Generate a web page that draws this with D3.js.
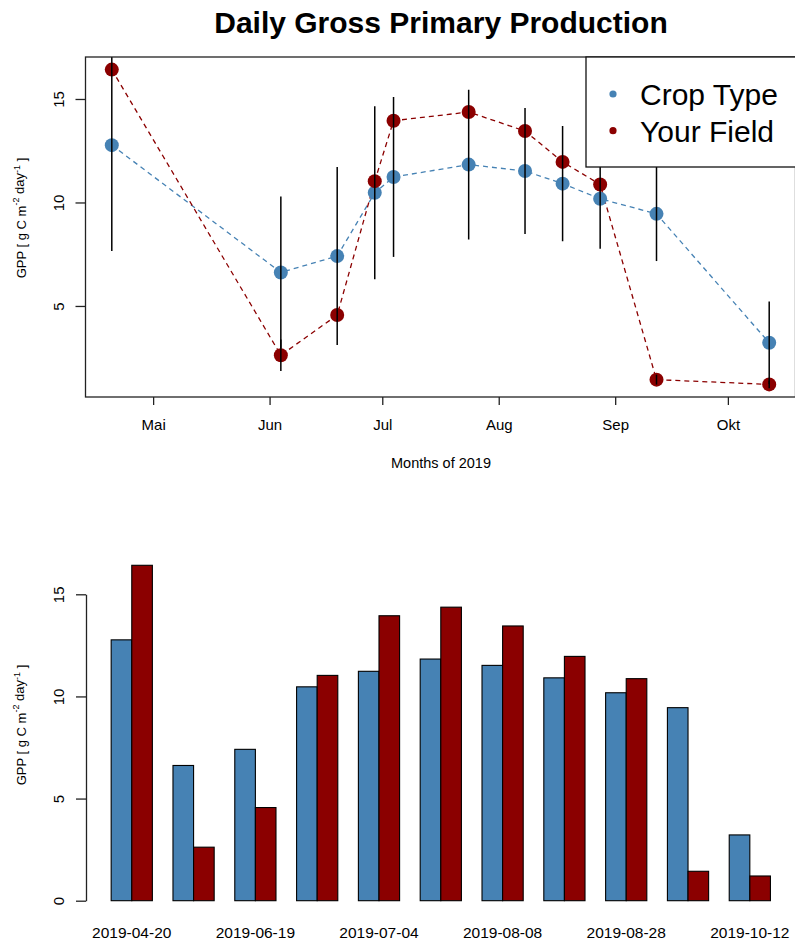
<!DOCTYPE html>
<html>
<head>
<meta charset="utf-8">
<script src="https://cdn.jsdelivr.net/npm/d3@7"></script>
<style>
  body { margin: 0; background: #fff; }
  svg { display: block; font-family: "Liberation Sans", Arial, sans-serif; }
</style>
</head>
<body>
<svg id="chart" width="795" height="942"></svg>
<script>
// ---------- data ----------
const dates = ["2019-04-20","2019-06-04","2019-06-19","2019-06-29","2019-07-04","2019-07-24","2019-08-08","2019-08-18","2019-08-28","2019-09-12","2019-10-12"];
const cropType  = [12.77, 6.62, 7.41, 10.47, 11.23, 11.83, 11.52, 10.91, 10.18, 9.45, 3.22];
const yourField = [16.42, 2.62, 4.56, 11.03, 13.95, 14.37, 13.45, 11.96, 10.87, 1.44, 1.21];
const cropSd    = [5.12, 3.67, 4.30, 4.18, 3.86, 3.62, 3.04, 2.78, 2.41, 2.28, 1.99];
const fieldSd   = [0, 0.76, 0, 0, 0, 0, 0, 0, 0, 0.24, 0.18];
const monthTicks  = ["2019-05-01","2019-06-01","2019-07-01","2019-08-01","2019-09-01","2019-10-01"];
const monthLabels = ["Mai","Jun","Jul","Aug","Sep","Okt"];
const yTicksTop = [5, 10, 15];
const yTicksBottom = [0, 5, 10, 15];
const seriesNames = ["Crop Type", "Your Field"];
const seriesColors = ["steelblue", "darkred"];

(function () {
const parse = d3.timeParse("%Y-%m-%d");
const dd = dates.map(parse);

const svg = d3.select("#chart");

// ---------- title ----------
svg.append("text")
  .attr("x", 441).attr("y", 33)
  .attr("text-anchor", "middle")
  .attr("font-weight", "bold").attr("font-size", 30)
  .text("Daily Gross Primary Production");

// ---------- top panel ----------
const tp = {l: 85.5, r: 795.5, t: 57, b: 397};
const ext = d3.extent(dd);
const padX = (ext[1] - ext[0]) * 0.04;
const x = d3.scaleTime()
  .domain([new Date(+ext[0] - padX), new Date(+ext[1] + padX)])
  .range([tp.l, tp.r]);
const allVals = cropType.concat(yourField);
const vExt = d3.extent(allVals);
const padY = (vExt[1] - vExt[0]) * 0.04;
const y = d3.scaleLinear().domain([vExt[0] - padY, vExt[1] + padY]).range([tp.b, tp.t]);

svg.append("clipPath").attr("id", "clipTop")
  .append("rect").attr("x", tp.l).attr("y", tp.t)
  .attr("width", tp.r - tp.l).attr("height", tp.b - tp.t);

const gTop = svg.append("g");
const plotArea = gTop.append("g").attr("clip-path", "url(#clipTop)");

const series = [cropType, yourField];
const line = d3.line().x((d, i) => x(dd[i])).y(d => y(d));
series.forEach((s, k) => {
  plotArea.append("path").datum(s)
    .attr("d", line)
    .attr("fill", "none")
    .attr("stroke", seriesColors[k])
    .attr("stroke-width", 1.3)
    .attr("stroke-dasharray", "5,4");
});
series.forEach((s, k) => {
  plotArea.selectAll(null).data(s).enter().append("circle")
    .attr("cx", (d, i) => x(dd[i]))
    .attr("cy", d => y(d))
    .attr("r", 7)
    .attr("fill", seriesColors[k]);
});
// error bars (drawn over the points)
[[cropType, cropSd], [yourField, fieldSd]].forEach(([v, sd]) => {
  plotArea.selectAll(null).data(v.map((d, i) => ({d, s: sd[i], i})).filter(o => o.s > 0))
    .enter().append("line")
    .attr("x1", o => x(dd[o.i])).attr("x2", o => x(dd[o.i]))
    .attr("y1", o => y(o.d + o.s)).attr("y2", o => y(o.d - o.s))
    .attr("stroke", "#000").attr("stroke-width", 1.5);
});

// box
gTop.append("rect")
  .attr("x", tp.l).attr("y", tp.t)
  .attr("width", tp.r - tp.l).attr("height", tp.b - tp.t)
  .attr("fill", "none").attr("stroke", "#222").attr("stroke-width", 1.3);

// x axis (months)
const xAxis = d3.axisBottom(x)
  .tickValues(monthTicks.map(parse))
  .tickFormat((d, i) => monthLabels[i])
  .tickSize(8).tickSizeOuter(0);
const gx = gTop.append("g").attr("transform", `translate(0,${tp.b})`).call(xAxis);
gx.select(".domain").remove();
gx.selectAll(".tick line").attr("stroke", "#222").attr("stroke-width", 1.3);
gx.selectAll(".tick text")
  .attr("y", 28).attr("dy", "0.35em")
  .attr("font-size", 15).attr("font-family", "Liberation Sans, Arial, sans-serif").attr("fill", "#000");

// y axis top
const yAxis = d3.axisLeft(y).tickValues(yTicksTop).tickFormat(d3.format("d")).tickSize(10).tickSizeOuter(0);
const gy = gTop.append("g").attr("transform", `translate(${tp.l},0)`).call(yAxis);
gy.select(".domain").remove();
gy.selectAll(".tick line").attr("stroke", "#222").attr("stroke-width", 1.3);
gy.selectAll(".tick text")
  .attr("x", null).attr("dy", "0.35em")
  .attr("transform", "translate(-27,0) rotate(-90)")
  .attr("text-anchor", "middle")
  .attr("font-size", 15).attr("font-family", "Liberation Sans, Arial, sans-serif").attr("fill", "#000");

// axis titles
gTop.append("text")
  .attr("x", 441).attr("y", 463).attr("dy", "0.35em")
  .attr("text-anchor", "middle").attr("font-size", 14.5)
  .text("Months of 2019");

function yLabel(g, cx, cy) {
  const t = g.append("text")
    .attr("transform", `translate(${cx},${cy}) rotate(-90)`)
    .attr("text-anchor", "middle").attr("dy", "0.35em")
    .attr("font-size", 13);
  t.append("tspan").text("GPP [ g C m");
  t.append("tspan").attr("font-size", 9).attr("dy", "-0.75em").text("-2");
  t.append("tspan").attr("dy", "0.4em").text(" day");
  t.append("tspan").attr("font-size", 9).attr("dy", "-0.4em").text("-1");
  t.append("tspan").attr("dy", "0.4em").text(" ]");
}
yLabel(gTop, 21, 218);

// legend
const leg = gTop.append("g");
leg.append("rect")
  .attr("x", 586).attr("y", tp.t).attr("width", 230).attr("height", 110)
  .attr("fill", "#fff").attr("stroke", "#111").attr("stroke-width", 1.3);
seriesNames.forEach((n, k) => {
  leg.append("circle").attr("cx", 613).attr("cy", 94 + k * 36.7).attr("r", 3.6).attr("fill", seriesColors[k]);
  leg.append("text").attr("x", 640).attr("y", 105 + k * 36.7)
    .attr("font-size", 30).text(n);
});

// ---------- bottom panel ----------
const xb = d3.scaleLinear().domain([-0.28, 34.28]).range([84.8, 796.8]);
const yb = d3.scaleLinear().domain([0, 15]).range([900.7, 594.3]);
const gBot = svg.append("g");

const barData = [];
dates.forEach((d, i) => {
  barData.push({u: 1 + 3 * i, v: cropType[i], k: 0});
  barData.push({u: 2 + 3 * i, v: yourField[i], k: 1});
});
gBot.selectAll("rect.bar").data(barData).enter().append("rect")
  .attr("class", "bar")
  .attr("x", d => xb(d.u))
  .attr("width", d => xb(d.u + 1) - xb(d.u))
  .attr("y", d => yb(d.v))
  .attr("height", d => yb(0) - yb(d.v))
  .attr("fill", d => seriesColors[d.k])
  .attr("stroke", "#000").attr("stroke-width", 1.1);

// x labels (every other shown)
gBot.selectAll("text.xl").data(dates.filter((d, i) => i % 2 === 0)).enter().append("text")
  .attr("class", "xl")
  .attr("x", (d, j) => xb(2 + 3 * (2 * j)))
  .attr("y", 933).attr("dy", "0.35em")
  .attr("text-anchor", "middle").attr("font-size", 15.5)
  .text(d => d);

// y axis bottom
const yAxisB = d3.axisLeft(yb).tickValues(yTicksBottom).tickFormat(d3.format("d")).tickSize(10).tickSizeOuter(0);
const gyb = gBot.append("g").attr("transform", `translate(86,0)`).call(yAxisB);
gyb.select(".domain").attr("stroke", "#222").attr("stroke-width", 1.3);
gyb.selectAll(".tick line").attr("stroke", "#222").attr("stroke-width", 1.3);
gyb.selectAll(".tick text")
  .attr("x", null).attr("dy", "0.35em")
  .attr("transform", "translate(-27,0) rotate(-90)")
  .attr("text-anchor", "middle")
  .attr("font-size", 15).attr("font-family", "Liberation Sans, Arial, sans-serif").attr("fill", "#000");
yLabel(gBot, 21, 725);
})();
</script>
</body>
</html>
